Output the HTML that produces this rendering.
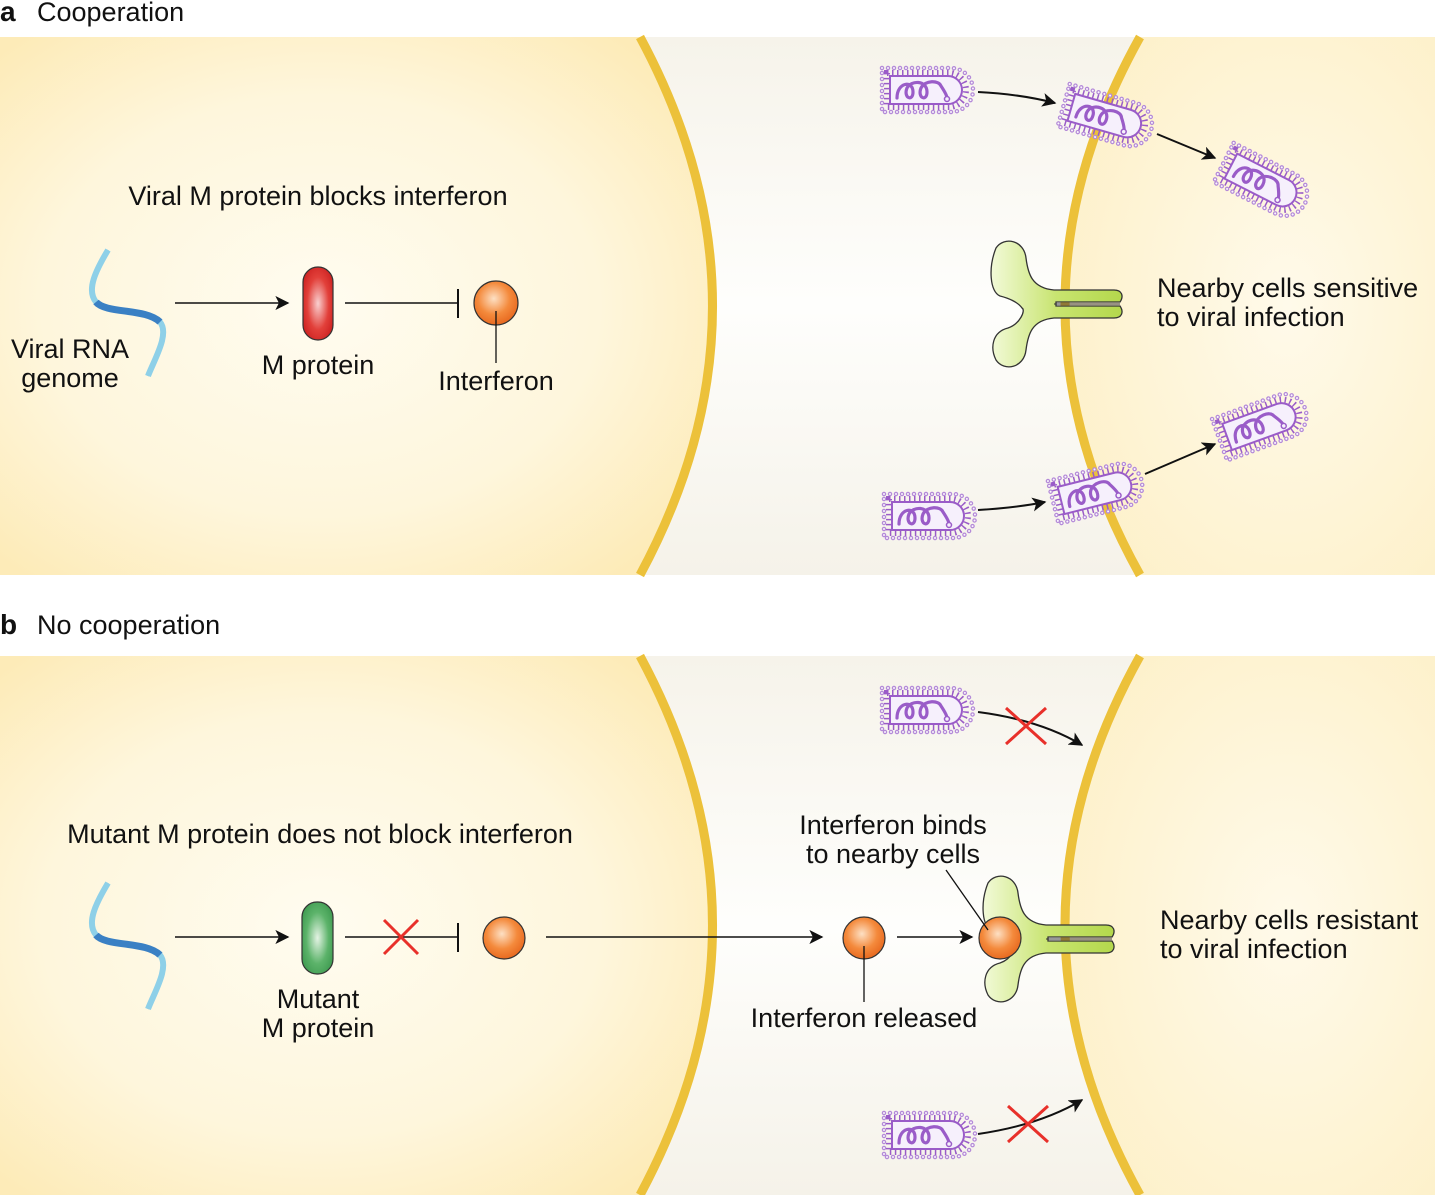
<!DOCTYPE html>
<html><head><meta charset="utf-8"><style>
html,body{margin:0;padding:0;background:#fff}
svg{display:block;font-family:"Liberation Sans",sans-serif}
</style></head><body>
<svg width="1435" height="1195" viewBox="0 0 1435 1195" xmlns="http://www.w3.org/2000/svg">
<defs>
<radialGradient id="lc" cx="0.45" cy="0.5" r="0.65"><stop offset="0" stop-color="#fffcf0"/><stop offset="0.6" stop-color="#fef6dc"/><stop offset="1" stop-color="#fdebb8"/></radialGradient>
<radialGradient id="rc" cx="0.6" cy="0.5" r="0.7"><stop offset="0" stop-color="#fffaea"/><stop offset="1" stop-color="#fdf0c8"/></radialGradient>
<linearGradient id="mid" x1="0" y1="0" x2="0" y2="1"><stop offset="0" stop-color="#f6f3ea"/><stop offset="0.5" stop-color="#fefefc"/><stop offset="1" stop-color="#f5f2e9"/></linearGradient>
<radialGradient id="red" cx="0.5" cy="0.5" r="0.6"><stop offset="0" stop-color="#f9d0d0"/><stop offset="0.6" stop-color="#e2403a"/><stop offset="1" stop-color="#cc2020"/></radialGradient>
<radialGradient id="grn" cx="0.5" cy="0.5" r="0.6"><stop offset="0" stop-color="#e4f3e4"/><stop offset="0.6" stop-color="#5cb36a"/><stop offset="1" stop-color="#3e9a50"/></radialGradient>
<radialGradient id="org" cx="0.45" cy="0.4" r="0.6"><stop offset="0" stop-color="#fde0c4"/><stop offset="0.6" stop-color="#f48a3c"/><stop offset="1" stop-color="#e86a20"/></radialGradient>
<linearGradient id="rg" x1="0" y1="0" x2="1" y2="0"><stop offset="0" stop-color="#f2fad8"/><stop offset="0.5" stop-color="#c8e470"/><stop offset="1" stop-color="#b4d84c"/></linearGradient>
<g id="virus">
<path d="M-43,-22 H26 A22,22 0 0 1 26,22 H-43 Z" fill="none" stroke="#b48ad8" stroke-width="4.5" stroke-dasharray="0 6" stroke-linecap="round"/>
<path d="M-43,-22 H26 A22,22 0 0 1 26,22 H-43 Z" fill="none" stroke="#faf6fd" stroke-width="2" stroke-dasharray="0 6" stroke-linecap="round"/>
<path d="M-38,-17 H24 A17,17 0 0 1 24,17 H-38 Z" fill="none" stroke="#9a5cc8" stroke-width="6" stroke-dasharray="1.5 3.5"/>
<path d="M-35,-14 H23 A14,14 0 0 1 23,14 H-35 Z" fill="#f6f0fc" stroke="#9a5cc8" stroke-width="2"/>
<path d="M-28,8 C-28,-8 -12,-10 -12,2 C-12,12 -22,8 -18,-2 C-14,-10 2,-10 2,2 C2,12 -8,8 -4,-2 C0,-10 14,-10 16,-4 C20,2 22,6 22,8" fill="none" stroke="#9a5cc8" stroke-width="3.2" stroke-linecap="round"/>
<circle cx="22" cy="9" r="2.5" fill="#f6f0fc" stroke="#9a5cc8" stroke-width="1.5"/>
</g>
<g id="rna">
<path d="M10,0 C-2,20 -12,40 -2,52 C8,64 48,58 62,72 C72,84 56,110 50,126" fill="none" stroke="#2c6fb0" stroke-width="1.2"/>
<path d="M10,0 C-2,20 -12,40 -2,52 C8,64 48,58 62,72 C72,84 56,110 50,126" fill="none" stroke="#8ed0e8" stroke-width="6"/>
<path d="M-2,52 C8,64 48,58 62,72" fill="none" stroke="#3a80c4" stroke-width="7"/>
</g>
<g id="rec">
<path d="M0,0 C8,-12 28,-8 30,10 C32,26 36,40 58,42 H118 C126,42 128,48 124,54 H60 V58 H124 C128,64 126,70 118,70 H58 C36,72 32,86 30,102 C28,120 8,124 0,112 C-6,100 -4,84 12,80 C24,76 30,62 26,60 C22,54 12,50 4,48 C-6,44 -8,20 0,0 Z" fill="url(#rg)" stroke="#333" stroke-width="1.3"/>
<path d="M58,56 H124" stroke="#333" stroke-width="1"/>
</g>
<marker id="ah2" viewBox="0 0 10 10" refX="9" refY="5" markerWidth="14" markerHeight="14" orient="auto" markerUnits="userSpaceOnUse"><path d="M0,0 L10,5 L0,10 L2.5,5 Z" fill="#111"/></marker>
</defs>

<rect x="0" y="37" width="1435" height="538" fill="url(#mid)"/>
<path d="M0,37 H640 Q785,306 640,575 H0 Z" fill="url(#lc)"/>
<path d="M1435,37 H1140 Q990,306 1140,575 H1435 Z" fill="url(#rc)"/>
<path d="M640,37 Q785,306 640,575" fill="none" stroke="#ecc13a" stroke-width="9"/>
<path d="M1140,37 Q990,306 1140,575" fill="none" stroke="#ecc13a" stroke-width="9"/>
<rect x="0" y="656" width="1435" height="539" fill="url(#mid)"/>
<path d="M0,656 H640 Q785,925 640,1195 H0 Z" fill="url(#lc)"/>
<path d="M1435,656 H1140 Q990,925 1140,1195 H1435 Z" fill="url(#rc)"/>
<path d="M640,656 Q785,925 640,1195" fill="none" stroke="#ecc13a" stroke-width="9"/>
<path d="M1140,656 Q990,925 1140,1195" fill="none" stroke="#ecc13a" stroke-width="9"/>

<g font-size="27" fill="#111">
<text x="0" y="21" font-size="28" font-weight="bold">a</text>
<text x="37" y="21">Cooperation</text>
<text x="0" y="634" font-size="28" font-weight="bold">b</text>
<text x="37" y="634">No cooperation</text>

<text x="318" y="205" text-anchor="middle">Viral M protein blocks interferon</text>
<text x="70" y="358" text-anchor="middle">Viral RNA</text>
<text x="70" y="387" text-anchor="middle">genome</text>
<text x="318" y="374" text-anchor="middle">M protein</text>
<text x="496" y="390" text-anchor="middle">Interferon</text>
<text x="1157" y="297">Nearby cells sensitive</text>
<text x="1157" y="326">to viral infection</text>

<text x="320" y="843" text-anchor="middle">Mutant M protein does not block interferon</text>
<text x="318" y="1008" text-anchor="middle">Mutant</text>
<text x="318" y="1037" text-anchor="middle">M protein</text>
<text x="864" y="1027" text-anchor="middle">Interferon released</text>
<text x="893" y="834" text-anchor="middle">Interferon binds</text>
<text x="893" y="863" text-anchor="middle">to nearby cells</text>
<text x="1160" y="929">Nearby cells resistant</text>
<text x="1160" y="958">to viral infection</text>
</g>

<use href="#rna" x="98" y="250"/>
<line x1="175" y1="303" x2="288" y2="303" stroke="#111" stroke-width="1.6" marker-end="url(#ah2)"/>
<rect x="303" y="267" width="30" height="73" rx="15" fill="url(#red)" stroke="#333" stroke-width="1.2"/>
<line x1="345" y1="303" x2="458" y2="303" stroke="#111" stroke-width="1.6"/>
<line x1="458" y1="289" x2="458" y2="318" stroke="#111" stroke-width="2"/>
<circle cx="496" cy="303" r="22" fill="url(#org)" stroke="#333" stroke-width="1.2"/>
<line x1="496" y1="311" x2="496" y2="363" stroke="#111" stroke-width="1.3"/>

<use href="#virus" transform="translate(925,90)"/>
<use href="#virus" transform="translate(1105,117) rotate(16)"/>
<use href="#virus" transform="translate(1262,182) rotate(27)"/>
<use href="#virus" transform="translate(927,516)"/>
<use href="#virus" transform="translate(1095,492) rotate(-14)"/>
<use href="#virus" transform="translate(1260,425) rotate(-20)"/>
<path d="M978,92 Q1020,94 1055,103" fill="none" stroke="#111" stroke-width="2" marker-end="url(#ah2)"/>
<path d="M1157,134 L1215,158" fill="none" stroke="#111" stroke-width="2" marker-end="url(#ah2)"/>
<path d="M978,510 Q1015,508 1045,502" fill="none" stroke="#111" stroke-width="2" marker-end="url(#ah2)"/>
<path d="M1145,474 L1215,444" fill="none" stroke="#111" stroke-width="2" marker-end="url(#ah2)"/>
<use href="#rec" x="996" y="248"/>

<use href="#rna" x="98" y="883"/>
<line x1="175" y1="937" x2="288" y2="937" stroke="#111" stroke-width="1.6" marker-end="url(#ah2)"/>
<rect x="302" y="902" width="31" height="72" rx="15" fill="url(#grn)" stroke="#333" stroke-width="1.2"/>
<line x1="345" y1="937" x2="458" y2="937" stroke="#111" stroke-width="1.6"/>
<line x1="458" y1="923" x2="458" y2="952" stroke="#111" stroke-width="2"/>
<path d="M384,920 L418,954 M418,920 L384,954" stroke="#e8302a" stroke-width="3"/>
<circle cx="504" cy="938" r="21" fill="url(#org)" stroke="#333" stroke-width="1.2"/>
<line x1="546" y1="937" x2="822" y2="937" stroke="#111" stroke-width="1.6" marker-end="url(#ah2)"/>
<circle cx="864" cy="938" r="21" fill="url(#org)" stroke="#333" stroke-width="1.2"/>
<line x1="864" y1="946" x2="864" y2="1002" stroke="#111" stroke-width="1.3"/>
<line x1="897" y1="937" x2="972" y2="937" stroke="#111" stroke-width="1.6" marker-end="url(#ah2)"/>

<use href="#virus" transform="translate(925,710)"/>
<use href="#virus" transform="translate(927,1135)"/>
<path d="M978,712 Q1040,720 1082,745" fill="none" stroke="#111" stroke-width="2" marker-end="url(#ah2)"/>
<path d="M978,1134 Q1040,1125 1082,1100" fill="none" stroke="#111" stroke-width="2" marker-end="url(#ah2)"/>
<path d="M1006,708 L1046,744 M1046,708 L1006,744" stroke="#e8302a" stroke-width="3"/>
<path d="M1008,1106 L1048,1142 M1048,1106 L1008,1142" stroke="#e8302a" stroke-width="3"/>
<use href="#rec" x="988" y="883"/>
<circle cx="1000" cy="938" r="21" fill="url(#org)" stroke="#333" stroke-width="1.2"/>
<line x1="946" y1="870" x2="988" y2="930" stroke="#111" stroke-width="1.3"/>
</svg>
</body></html>
